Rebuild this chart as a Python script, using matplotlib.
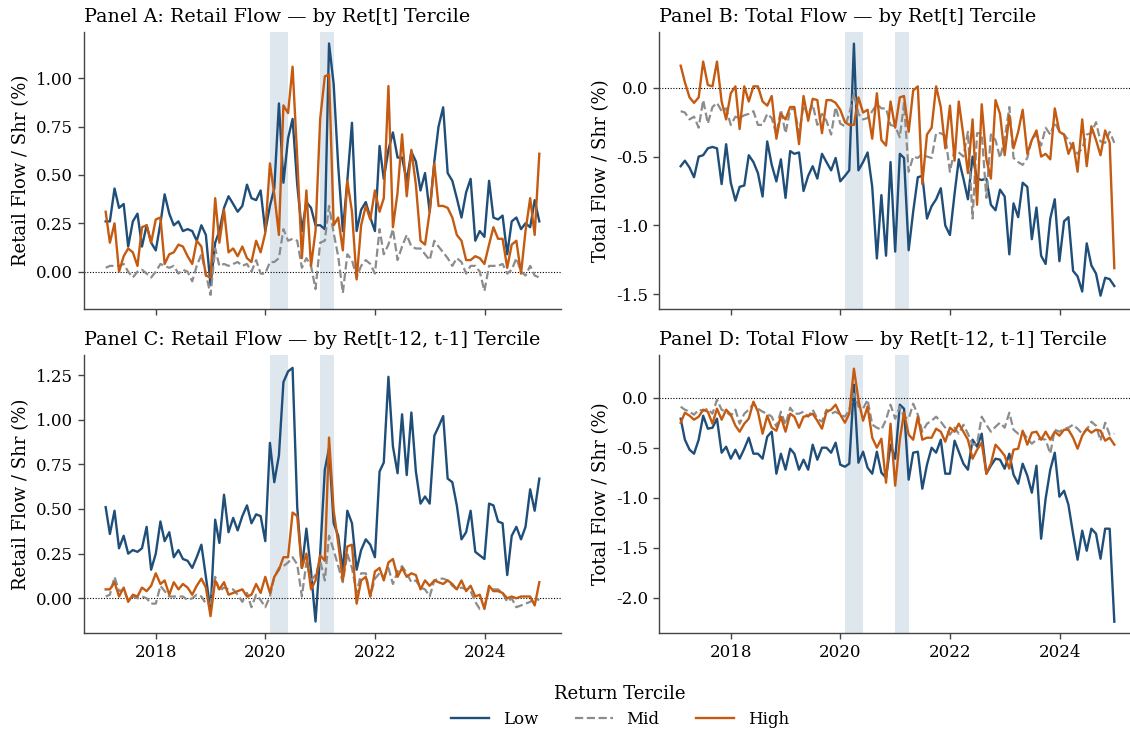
import matplotlib
matplotlib.use("Agg")
import matplotlib.pyplot as plt
import matplotlib.dates as mdates
from matplotlib.ticker import MultipleLocator, FormatStrFormatter
import pandas as pd

plt.rcParams["font.family"] = ["DejaVu Serif"]

# Monthly observations, Jan 2017 - Dec 2024
dates = pd.date_range("2017-01-31", periods=96, freq="ME")

# Panel A: retail flow by Ret[t] tercile
a_low = [0.26, 0.26, 0.43, 0.33, 0.35, 0.13, 0.26, 0.30, 0.13, 0.24,
         0.15, 0.11, 0.25, 0.40, 0.30, 0.24, 0.26, 0.21, 0.22, 0.21,
         0.16, 0.24, 0.19, -0.07, 0.15, 0.21, 0.33, 0.39, 0.35, 0.31,
         0.34, 0.45, 0.38, 0.37, 0.42, 0.21, 0.34, 0.43, 0.87, 0.46,
         0.69, 0.79, 0.45, 0.21, 0.36, 0.33, 0.24, 0.24, 0.22, 1.18,
         0.97, 0.55, 0.21, 0.47, 0.77, 0.21, 0.32, 0.36, 0.28, 0.21,
         0.65, 0.48, 0.63, 0.72, 0.59, 0.59, 0.47, 0.62, 0.57, 0.42,
         0.51, 0.31, 0.57, 0.75, 0.85, 0.51, 0.47, 0.38, 0.28, 0.41,
         0.48, 0.16, 0.21, 0.18, 0.47, 0.28, 0.27, 0.29, 0.09, 0.26,
         0.28, 0.22, 0.25, 0.23, 0.37, 0.26]
a_mid = [0.02, 0.03, 0.03, 0.03, 0.04, 0.00, -0.03, 0.00, 0.01, -0.01,
         -0.03, 0.00, 0.04, 0.03, 0.02, 0.03, -0.01, 0.01, 0.00, -0.05,
         0.03, 0.09, -0.01, -0.12, 0.12, 0.03, 0.04, 0.03, 0.04, 0.05,
         0.03, 0.04, 0.00, 0.06, -0.01, -0.01, 0.05, 0.05, 0.07, 0.22,
         0.16, 0.17, 0.16, 0.02, 0.07, 0.03, -0.09, 0.15, 0.16, 0.34,
         0.20, 0.08, -0.11, 0.09, 0.06, -0.03, 0.03, 0.06, 0.04, -0.01,
         0.22, 0.09, 0.14, 0.22, 0.06, 0.13, 0.19, 0.13, 0.12, 0.12,
         0.09, 0.06, 0.16, 0.13, 0.10, 0.07, 0.03, 0.07, 0.05, -0.01,
         0.03, 0.03, 0.00, -0.10, 0.03, 0.03, 0.03, 0.04, -0.01, 0.01,
         0.07, 0.00, -0.02, 0.03, -0.02, -0.03]
a_high = [0.31, 0.15, 0.25, 0.00, 0.08, 0.12, 0.10, 0.03, 0.23, 0.24,
          0.15, 0.27, 0.28, 0.04, 0.09, 0.10, 0.14, 0.13, 0.08, 0.04,
          0.16, 0.13, -0.02, -0.03, 0.38, 0.15, 0.32, 0.10, 0.12, 0.08,
          0.13, 0.07, 0.05, 0.16, 0.10, 0.20, 0.56, 0.40, 0.19, 0.86,
          0.82, 1.06, 0.59, 0.07, 0.42, 0.03, 0.21, 0.79, 1.01, 1.02,
          0.24, 0.28, 0.11, 0.47, 0.31, -0.04, 0.24, 0.34, 0.27, 0.42,
          0.31, 0.38, 0.96, 0.23, 0.41, 0.71, 0.39, 0.63, 0.45, 0.16,
          0.14, 0.31, 0.56, 0.34, 0.34, 0.33, 0.28, 0.19, 0.16, 0.06,
          0.06, 0.08, 0.07, 0.04, 0.14, 0.23, 0.17, 0.17, 0.02, 0.14,
          0.16, -0.01, 0.21, 0.38, 0.19, 0.61]

# Panel B: total flow by Ret[t] tercile
b_low = [-0.57, -0.53, -0.58, -0.65, -0.50, -0.49, -0.44, -0.43, -0.44, -0.70,
         -0.41, -0.69, -0.82, -0.72, -0.71, -0.49, -0.54, -0.62, -0.79, -0.39,
         -0.56, -0.68, -0.52, -0.80, -0.46, -0.48, -0.47, -0.75, -0.64, -0.57,
         -0.66, -0.48, -0.54, -0.60, -0.51, -0.68, -0.64, -0.60, 0.32, -0.60,
         -0.54, -0.47, -0.72, -1.24, -0.78, -1.22, -0.54, -1.19, -0.48, -0.51,
         -1.18, -0.90, -0.65, -0.64, -0.95, -0.86, -0.81, -0.73, -1.00, -1.07,
         -0.77, -0.52, -0.66, -0.81, -0.50, -0.66, -0.67, -0.66, -0.85, -0.89,
         -0.74, -0.79, -1.21, -0.84, -0.94, -0.69, -0.72, -1.10, -0.87, -1.22,
         -1.28, -0.95, -0.81, -1.26, -0.97, -0.94, -1.33, -1.37, -1.48, -1.13,
         -1.29, -1.35, -1.51, -1.38, -1.39, -1.44]
b_mid = [-0.17, -0.18, -0.23, -0.21, -0.29, -0.09, -0.26, -0.14, -0.11, -0.17,
         -0.15, -0.27, -0.21, -0.22, -0.20, -0.19, -0.17, -0.27, -0.27, -0.19,
         -0.22, -0.34, -0.16, -0.33, -0.16, -0.15, -0.33, -0.13, -0.20, -0.12,
         -0.27, -0.19, -0.24, -0.34, -0.14, -0.26, -0.28, -0.19, -0.04, -0.19,
         -0.23, -0.22, -0.17, -0.12, -0.15, -0.15, -0.27, -0.28, -0.36, -0.11,
         -0.61, -0.50, -0.51, -0.48, -0.50, -0.51, -0.33, -0.33, -0.35, -0.61,
         -0.45, -0.47, -0.50, -0.32, -0.95, -0.33, -0.33, -0.80, -0.34, -0.38,
         -0.51, -0.37, -0.14, -0.51, -0.54, -0.56, -0.51, -0.37, -0.34, -0.42,
         -0.29, -0.34, -0.25, -0.32, -0.34, -0.38, -0.44, -0.48, -0.44, -0.34,
         -0.33, -0.25, -0.39, -0.40, -0.32, -0.40]
b_high = [0.16, 0.04, -0.07, -0.11, -0.07, 0.19, 0.02, 0.01, 0.19, -0.10,
          -0.23, -0.04, 0.01, -0.30, 0.01, -0.10, 0.01, 0.01, -0.10, -0.13,
          -0.06, -0.37, -0.19, -0.23, -0.14, -0.14, -0.41, -0.06, -0.24, -0.08,
          -0.09, -0.33, -0.09, -0.09, -0.11, -0.16, -0.25, -0.27, -0.27, -0.07,
          -0.18, -0.16, -0.37, -0.04, -0.38, -0.42, -0.10, -0.29, -0.07, -0.06,
          -0.32, -0.02, 0.01, -0.70, -0.34, -0.29, 0.01, -0.14, -0.44, -0.13,
          -0.53, -0.10, -0.35, -0.62, -0.23, -0.85, -0.12, -0.52, -0.66, -0.09,
          -0.19, -0.49, -0.20, -0.44, -0.32, -0.16, -0.48, -0.38, -0.31, -0.50,
          -0.48, -0.52, -0.15, -0.32, -0.34, -0.48, -0.40, -0.61, -0.23, -0.57,
          -0.28, -0.38, -0.49, -0.31, -0.40, -1.31]

# Panel C: retail flow by Ret[t-12, t-1] tercile
c_low = [0.51, 0.36, 0.49, 0.28, 0.35, 0.25, 0.27, 0.26, 0.28, 0.40,
         0.16, 0.25, 0.43, 0.32, 0.37, 0.23, 0.27, 0.22, 0.21, 0.17,
         0.23, 0.30, 0.12, -0.07, 0.44, 0.31, 0.58, 0.37, 0.45, 0.38,
         0.46, 0.52, 0.42, 0.47, 0.46, 0.32, 0.87, 0.65, 0.80, 1.21,
         1.27, 1.29, 0.51, 0.17, 0.39, 0.15, -0.13, 0.25, 0.72, 0.84,
         0.42, 0.35, 0.15, 0.49, 0.42, 0.16, 0.27, 0.33, 0.30, 0.23,
         0.71, 0.76, 1.24, 0.85, 0.70, 1.03, 0.69, 1.04, 0.71, 0.53,
         0.57, 0.53, 0.91, 0.96, 1.02, 0.67, 0.65, 0.52, 0.33, 0.37,
         0.49, 0.26, 0.24, 0.22, 0.53, 0.52, 0.43, 0.42, 0.13, 0.35,
         0.40, 0.33, 0.40, 0.61, 0.49, 0.67]
c_mid = [0.01, 0.02, 0.12, 0.04, 0.05, -0.01, 0.01, 0.00, 0.01, 0.00,
         -0.03, -0.03, 0.07, 0.04, 0.01, 0.01, 0.01, 0.01, -0.01, 0.00,
         0.02, 0.01, -0.03, -0.03, 0.12, 0.04, 0.06, 0.05, 0.05, 0.02,
         -0.02, 0.03, -0.05, 0.02, -0.01, -0.05, 0.01, 0.12, 0.17, 0.18,
         0.20, 0.23, 0.19, 0.01, 0.20, 0.10, 0.13, 0.21, 0.10, 0.35,
         0.27, 0.18, 0.09, 0.25, 0.17, 0.03, 0.14, 0.14, 0.01, 0.11,
         0.14, 0.12, 0.17, 0.08, 0.15, 0.18, 0.14, 0.09, 0.10, 0.06,
         0.05, 0.01, 0.10, 0.11, 0.11, 0.10, 0.07, 0.05, 0.06, 0.05,
         0.04, -0.02, -0.06, -0.05, 0.05, 0.05, 0.05, 0.03, -0.02, 0.00,
         -0.05, -0.04, -0.03, -0.02, 0.00, -0.01]
c_high = [0.05, 0.05, 0.09, 0.01, 0.06, -0.02, 0.02, 0.01, 0.06, 0.04,
          0.07, 0.14, 0.08, 0.10, 0.02, 0.09, 0.05, 0.08, 0.06, 0.02,
          0.07, 0.11, 0.06, -0.10, 0.10, 0.05, 0.09, 0.02, 0.03, 0.04,
          0.05, 0.01, 0.02, 0.08, 0.03, 0.12, 0.03, 0.12, 0.16, 0.23,
          0.23, 0.48, 0.46, 0.17, 0.25, 0.05, 0.10, 0.24, 0.21, 0.90,
          0.49, 0.31, 0.10, 0.29, 0.30, -0.03, 0.10, 0.12, 0.01, 0.15,
          0.17, 0.10, 0.20, 0.22, 0.12, 0.17, 0.12, 0.14, 0.13, 0.05,
          0.10, 0.07, 0.10, 0.09, 0.08, 0.10, 0.08, 0.05, 0.10, 0.04,
          0.07, 0.01, 0.02, -0.06, 0.07, 0.04, 0.04, 0.03, 0.00, 0.01,
          0.00, 0.01, 0.01, 0.01, -0.04, 0.09]

# Panel D: total flow by Ret[t-12, t-1] tercile
d_low = [-0.21, -0.42, -0.52, -0.56, -0.42, -0.18, -0.31, -0.30, -0.21, -0.55,
         -0.49, -0.61, -0.52, -0.61, -0.51, -0.40, -0.56, -0.56, -0.61, -0.39,
         -0.34, -0.76, -0.56, -0.72, -0.51, -0.56, -0.72, -0.62, -0.72, -0.47,
         -0.62, -0.50, -0.50, -0.55, -0.45, -0.67, -0.69, -0.66, 0.13, -0.65,
         -0.54, -0.70, -0.76, -0.54, -0.75, -0.80, -0.47, -0.61, -0.07, -0.11,
         -0.82, -0.55, -0.54, -0.91, -0.67, -0.50, -0.55, -0.42, -0.76, -0.76,
         -0.43, -0.54, -0.66, -0.72, -0.42, -0.49, -0.36, -0.76, -0.68, -0.61,
         -0.62, -0.71, -0.56, -0.77, -0.86, -0.66, -0.78, -0.95, -0.68, -1.41,
         -1.01, -0.72, -0.55, -0.99, -0.93, -1.07, -1.36, -1.62, -1.33, -1.53,
         -1.31, -1.36, -1.61, -1.31, -1.31, -2.24]
d_mid = [-0.09, -0.12, -0.14, -0.17, -0.12, -0.13, -0.11, -0.16, -0.02, -0.12,
         -0.14, -0.18, -0.12, -0.26, -0.16, -0.12, -0.06, -0.11, -0.14, -0.16,
         -0.19, -0.29, -0.14, -0.27, -0.10, -0.16, -0.16, -0.14, -0.19, -0.12,
         -0.21, -0.24, -0.12, -0.16, -0.14, -0.17, -0.19, -0.12, 0.04, -0.09,
         -0.11, -0.02, -0.27, -0.30, -0.32, -0.22, -0.07, -0.21, -0.09, -0.19,
         -0.21, -0.06, -0.17, -0.34, -0.26, -0.23, -0.19, -0.24, -0.30, -0.37,
         -0.30, -0.36, -0.27, -0.36, -0.47, -0.46, -0.19, -0.27, -0.34, -0.29,
         -0.25, -0.30, -0.15, -0.32, -0.36, -0.34, -0.41, -0.46, -0.42, -0.41,
         -0.42, -0.56, -0.32, -0.34, -0.31, -0.30, -0.27, -0.31, -0.36, -0.32,
         -0.24, -0.28, -0.43, -0.25, -0.37, -0.36]
d_high = [-0.25, -0.15, -0.18, -0.22, -0.19, -0.12, -0.14, -0.26, -0.11, -0.22,
          -0.12, -0.17, -0.28, -0.34, -0.26, -0.21, -0.04, -0.14, -0.36, -0.18,
          -0.30, -0.33, -0.19, -0.34, -0.16, -0.19, -0.30, -0.19, -0.18, -0.16,
          -0.23, -0.31, -0.14, -0.12, -0.07, -0.17, -0.25, -0.16, 0.29, -0.02,
          -0.23, -0.09, -0.40, -0.50, -0.41, -0.85, -0.26, -0.88, -0.42, -0.15,
          -0.37, -0.42, -0.19, -0.42, -0.40, -0.40, -0.31, -0.34, -0.44, -0.30,
          -0.34, -0.26, -0.34, -0.42, -0.61, -0.52, -0.45, -0.76, -0.66, -0.47,
          -0.52, -0.58, -0.71, -0.52, -0.51, -0.33, -0.47, -0.35, -0.34, -0.42,
          -0.34, -0.42, -0.34, -0.38, -0.32, -0.32, -0.40, -0.51, -0.38, -0.31,
          -0.35, -0.32, -0.33, -0.43, -0.40, -0.47]

titles = ["Panel A: Retail Flow \u2014 by Ret[t] Tercile",
          "Panel B: Total Flow \u2014 by Ret[t] Tercile",
          "Panel C: Retail Flow \u2014 by Ret[t-12, t-1] Tercile",
          "Panel D: Total Flow \u2014 by Ret[t-12, t-1] Tercile"]
ylabels = ["Retail Flow / Shr (%)", "Total Flow / Shr (%)",
           "Retail Flow / Shr (%)", "Total Flow / Shr (%)"]
tercile_labels = ["Low", "Mid", "High"]
episodes = [("2020-02-01", "2020-06-01"), ("2021-01-01", "2021-04-01")]

panels = [(a_low, a_mid, a_high), (b_low, b_mid, b_high),
          (c_low, c_mid, c_high), (d_low, d_mid, d_high)]
ylims = [(-0.193, 1.241), (-1.607, 0.407), (-0.196, 1.362), (-2.356, 0.427)]
ysteps = [0.25, 0.5, 0.25, 0.5]
yfmts = ["%.2f", "%.1f", "%.2f", "%.1f"]

BLUE = "#1f4e79"
GRAY = "#8c8c8c"
ORANGE = "#c55a11"
SHADE = "#dfe7ee"
SPINE = "#444444"

fig = plt.figure(figsize=(11.3, 7.33), dpi=100)
W, H = 1130.0, 733.0
ax_w = 477.0 / W
ax_h_top = (309.0 - 31.7) / H
ax_h_bot = (633.3 - 355.0) / H
rects = [(84.0 / W, 1 - 309.0 / H, ax_w, ax_h_top),
         (659.0 / W, 1 - 309.0 / H, ax_w, ax_h_top),
         (84.0 / W, 1 - 633.3 / H, ax_w, ax_h_bot),
         (659.0 / W, 1 - 633.3 / H, ax_w, ax_h_bot)]

handles = None
for k, rect in enumerate(rects):
    ax = fig.add_axes(rect)
    for start, end in episodes:
        ax.axvspan(pd.Timestamp(start), pd.Timestamp(end), color=SHADE,
                   lw=0, zorder=0)
    ax.axhline(0, color="black", lw=0.8, ls=(0, (1, 1.5)), zorder=1)
    low, mid, high = panels[k]
    l1, = ax.plot(dates, low, color=BLUE, lw=1.7, label=tercile_labels[0], zorder=3)
    l2, = ax.plot(dates, mid, color=GRAY, lw=1.6, ls="--", label=tercile_labels[1], zorder=3)
    l3, = ax.plot(dates, high, color=ORANGE, lw=1.7, label=tercile_labels[2], zorder=3)
    if handles is None:
        handles = [l1, l2, l3]

    ax.set_ylim(*ylims[k])
    ax.yaxis.set_major_locator(MultipleLocator(ysteps[k]))
    ax.yaxis.set_major_formatter(FormatStrFormatter(yfmts[k]))
    ax.xaxis.set_major_locator(mdates.YearLocator(2))
    ax.xaxis.set_major_formatter(mdates.DateFormatter("%Y"))

    ax.set_title(titles[k], loc="left", fontsize=13.8, pad=7)
    ax.set_ylabel(ylabels[k], fontsize=13)
    ax.tick_params(labelsize=12, color=SPINE, length=4.5, width=1.0)
    if k < 2:
        # top row shares the time axis with the row below
        ax.tick_params(axis="x", labelbottom=False)
    for side in ("top", "right"):
        ax.spines[side].set_visible(False)
    for side in ("left", "bottom"):
        ax.spines[side].set_color(SPINE)
        ax.spines[side].set_linewidth(1.0)

fig.legend(handles, tercile_labels, loc="upper center",
           bbox_to_anchor=(620.0 / W, 0.086), ncol=3, frameon=False,
           title="Return Tercile", fontsize=12, title_fontsize=13,
           handlelength=2.3, columnspacing=2.2, handletextpad=0.8)

fig.savefig("out.png", dpi=100)
